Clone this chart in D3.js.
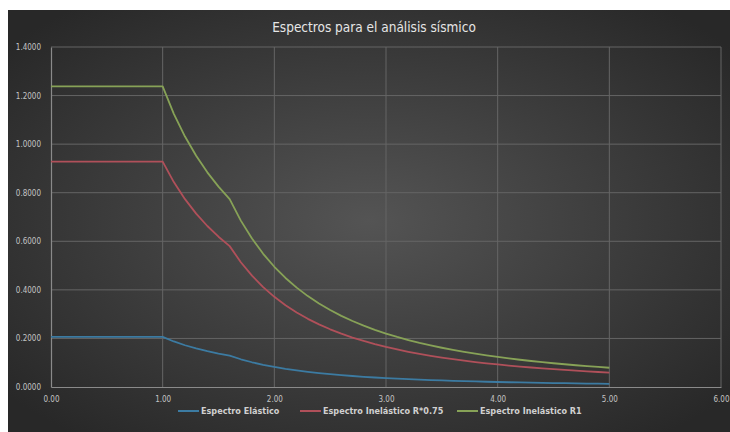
<!DOCTYPE html>
<html><head><meta charset="utf-8">
<script src="https://cdn.jsdelivr.net/npm/d3@7"></script>
<style>html,body{margin:0;padding:0;background:#fff;}svg{display:block;}</style>
</head><body>
<svg id="c" width="730" height="432"></svg>
<script>
const periods = [0.0,1.0,1.1,1.2,1.3,1.4,1.5,1.6,1.7,1.8,1.9,2.0,2.1,2.2,2.3,2.4,2.5,2.6,2.7,2.8,2.9,3.0,3.1,3.2,3.3,3.4,3.5,3.6,3.7,3.8,3.9,4.0,4.1,4.2,4.3,4.4,4.5,4.6,4.7,4.8,4.9,5.0];
const elastico = [0.2063,0.2063,0.1875,0.1719,0.1587,0.1473,0.1375,0.1289,0.1142,0.1019,0.0914,0.0825,0.0748,0.0682,0.0624,0.0573,0.0528,0.0488,0.0453,0.0421,0.0392,0.0367,0.0343,0.0322,0.0303,0.0285,0.0269,0.0255,0.0241,0.0229,0.0217,0.0206,0.0196,0.0187,0.0178,0.0170,0.0163,0.0156,0.0149,0.0143,0.0137,0.0132];
const inelastico075 = [0.9281,0.9281,0.8438,0.7734,0.7139,0.6629,0.6188,0.5801,0.5138,0.4583,0.4114,0.3713,0.3367,0.3068,0.2807,0.2578,0.2376,0.2197,0.2037,0.1895,0.1766,0.1650,0.1545,0.1450,0.1364,0.1285,0.1212,0.1146,0.1085,0.1028,0.0976,0.0928,0.0883,0.0842,0.0803,0.0767,0.0733,0.0702,0.0672,0.0645,0.0618,0.0594];
const inelasticoR1 = [1.2375,1.2375,1.1250,1.0313,0.9519,0.8839,0.8250,0.7734,0.6851,0.6111,0.5485,0.4950,0.4490,0.4091,0.3743,0.3438,0.3168,0.2929,0.2716,0.2526,0.2354,0.2200,0.2060,0.1934,0.1818,0.1713,0.1616,0.1528,0.1446,0.1371,0.1302,0.1238,0.1178,0.1122,0.1071,0.1023,0.0978,0.0936,0.0896,0.0859,0.0825,0.0792];
const seriesNames = ["Espectro Elástico","Espectro Inelástico R*0.75","Espectro Inelástico R1"];
const seriesColors = ["#3c7ba2","#b0505a","#87a257"];
const xTicks = [0,1,2,3,4,5,6];
const yTicks = [0,0.2,0.4,0.6,0.8,1.0,1.2,1.4];
const title = "Espectros para el análisis sísmico";

const svg = d3.select("#c");
const defs = svg.append("defs");
const g = defs.append("radialGradient").attr("id","bg").attr("cx","50%").attr("cy","50%").attr("r","65%");
g.append("stop").attr("offset","0%").attr("stop-color","#545454");
g.append("stop").attr("offset","100%").attr("stop-color","#282828");
svg.append("rect").attr("x",8).attr("y",10).attr("width",722).attr("height",422).attr("fill","url(#bg)");

const x = d3.scaleLinear().domain([0,6]).range([51,721]);
const y = d3.scaleLinear().domain([0,1.4]).range([387,47]);

// grid
svg.append("g").selectAll("line").data(yTicks.slice(1)).join("line")
  .attr("x1",x(0)).attr("x2",x(6)).attr("y1",d=>y(d)).attr("y2",d=>y(d))
  .attr("stroke","#656565").attr("stroke-width",1);
svg.append("g").selectAll("line").data(xTicks.slice(1)).join("line")
  .attr("y1",y(0)).attr("y2",y(1.4)).attr("x1",d=>x(d)).attr("x2",d=>x(d))
  .attr("stroke","#656565").attr("stroke-width",1);

// axes
const xa = svg.append("g").attr("transform",`translate(0,${y(0)})`)
  .call(d3.axisBottom(x).tickValues(xTicks).tickFormat(d3.format(".2f")).tickSize(0).tickPadding(9));
const ya = svg.append("g").attr("transform",`translate(${x(0)},0)`)
  .call(d3.axisLeft(y).tickValues(yTicks).tickFormat(d3.format(".4f")).tickSize(0).tickPadding(10));
[xa,ya].forEach(a=>{
  a.select(".domain").attr("stroke","#8a8a8a").attr("stroke-width",1.2);
  a.selectAll("text").attr("fill","#c4c4c4").attr("font-family","DejaVu Sans Condensed, DejaVu Sans, sans-serif").attr("font-size","8px");
});

const line = d3.line().x((d,i)=>x(periods[i])).y(d=>y(d));
[elastico,inelastico075,inelasticoR1].forEach((s,k)=>{
  svg.append("path").datum(s).attr("d",line).attr("fill","none")
    .attr("stroke",seriesColors[k]).attr("stroke-width",1.8).attr("stroke-linejoin","round");
});

svg.append("text").attr("x",374).attr("y",32).attr("text-anchor","middle")
  .attr("fill","#e6e6e6").attr("font-family","DejaVu Sans Condensed, DejaVu Sans, sans-serif").attr("font-size","13.5px")
  .text(title);

// legend
const legX = [178,300,457];
const leg = svg.append("g");
seriesNames.forEach((n,k)=>{
  leg.append("line").attr("x1",legX[k]).attr("x2",legX[k]+21).attr("y1",411).attr("y2",411)
    .attr("stroke",seriesColors[k]).attr("stroke-width",2);
  leg.append("text").attr("x",legX[k]+23).attr("y",414).attr("fill","#d0d0d0")
    .attr("font-family","DejaVu Sans Condensed, DejaVu Sans, sans-serif").attr("font-size","9px").attr("font-weight","bold")
    .text(n);
});
</script>
</body></html>
